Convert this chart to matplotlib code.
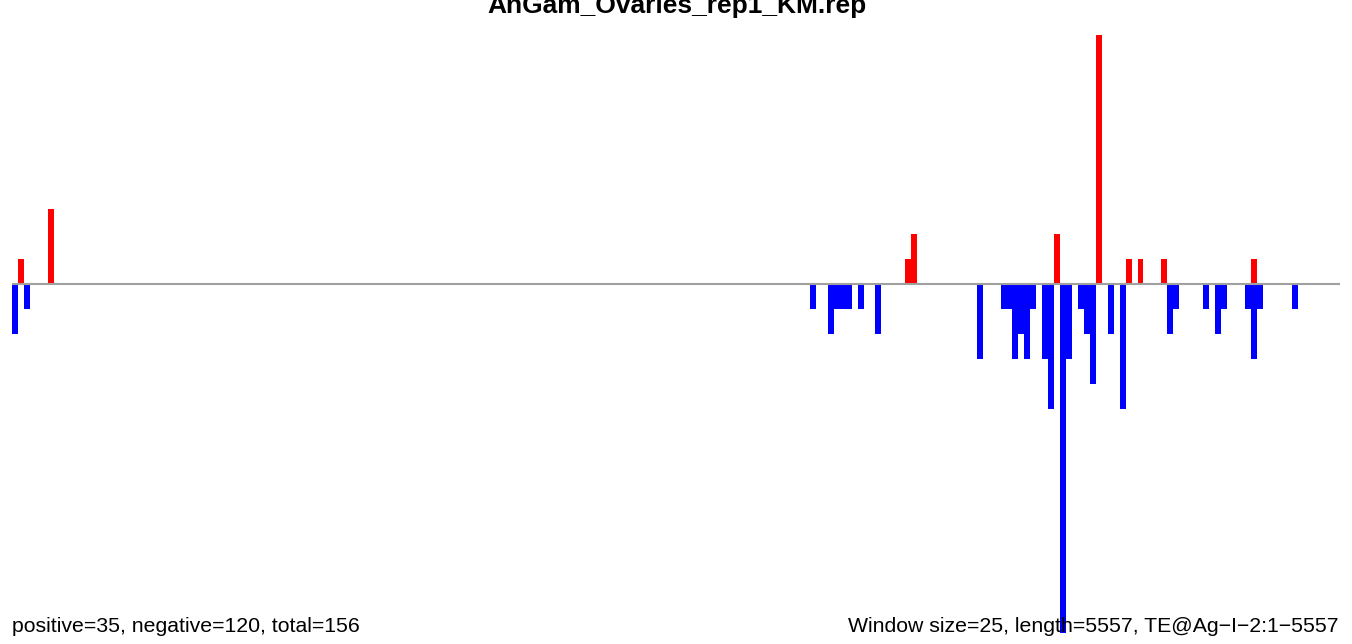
import numpy as np
import matplotlib.pyplot as plt

plt.rcParams['font.family'] = ['Liberation Sans', 'DejaVu Sans']

title = 'AnGam_Ovaries_rep1_KM.rep'
n_bins = 223  # 5557 / 25 windows

# window index -> count
pos_bins = [1, 6, 150, 151, 175, 182, 187, 189, 193, 208]
pos_vals = [1, 3, 1, 2, 2, 10, 1, 1, 1, 1]

neg_bins = [0, 2, 134, 137, 138, 139, 140, 142, 145, 162,
            166, 167, 168, 169, 170, 171, 173, 174, 176, 177,
            179, 180, 181, 184, 186, 194, 195, 200, 202, 203,
            207, 208, 209, 215]
neg_vals = [2, 1, 1, 2, 1, 1, 1, 1, 2, 3,
            1, 1, 3, 2, 3, 1, 3, 5, 14, 3,
            1, 2, 4, 2, 5, 2, 1, 1, 2, 1,
            1, 3, 1, 1]

left_note = 'positive=35, negative=120, total=156'
right_note = 'Window size=25, length=5557, TE@Ag\u2212I\u22122:1\u22125557'

W, H = 1352, 644
fig = plt.figure(figsize=(W / 100, H / 100), dpi=100)
ax = fig.add_axes([12 / W, (H - 633) / H, 1328 / W, (633 - 35) / H])

ax.bar(pos_bins, pos_vals, width=1, align='edge', color='red', linewidth=0)
ax.bar(neg_bins, -np.array(neg_vals), width=1, align='edge', color='blue', linewidth=0)
ax.axhline(0, color='#a0a0a0', linewidth=1.5, zorder=5)

ax.set_xlim(0, n_bins)
ax.set_ylim(-14, 10)
ax.axis('off')

# title sits partly above the top edge, as in the original
fig.text(677 / W, 1 - 13 / H, title, ha='center', va='baseline',
         fontsize=19, fontweight='bold')
fig.text(12 / W, 1 - 632 / H, left_note, ha='left', va='baseline', fontsize=15.3)
fig.text(1339 / W, 1 - 632 / H, right_note, ha='right', va='baseline', fontsize=15.3)

fig.savefig('out.png', dpi=100)
